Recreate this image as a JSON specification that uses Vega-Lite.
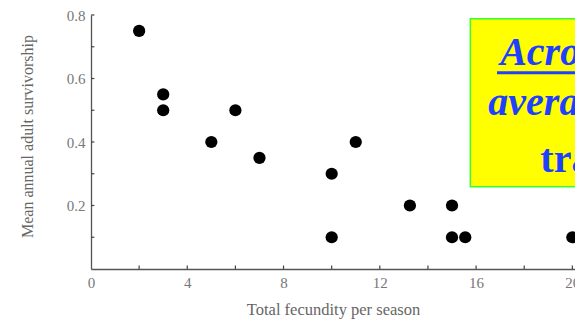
{
  "$schema": "https://vega.github.io/schema/vega-lite/v6.json",
  "width": 484,
  "height": 254,
  "autosize": {"type": "none"},
  "padding": {"left": 91, "top": 15, "right": 0, "bottom": 53},
  "background": "white",
  "config": {
    "view": {"stroke": null},
    "axis": {
      "labelFont": "Liberation Serif",
      "titleFont": "Liberation Serif",
      "labelFontSize": 15,
      "titleFontSize": 16,
      "labelColor": "#777",
      "titleColor": "#666",
      "titleFontWeight": "normal",
      "domainColor": "#555",
      "domainWidth": 1.3,
      "ticks": false,
      "grid": false
    }
  },
  "layer": [
    {
      "data": {"values": [
        {"fecundity": 2, "survivorship": 0.75},
        {"fecundity": 3, "survivorship": 0.55},
        {"fecundity": 3, "survivorship": 0.5},
        {"fecundity": 5, "survivorship": 0.4},
        {"fecundity": 6, "survivorship": 0.5},
        {"fecundity": 7, "survivorship": 0.35},
        {"fecundity": 10, "survivorship": 0.3},
        {"fecundity": 10, "survivorship": 0.1},
        {"fecundity": 11, "survivorship": 0.4},
        {"fecundity": 13.25, "survivorship": 0.2},
        {"fecundity": 15, "survivorship": 0.2},
        {"fecundity": 15, "survivorship": 0.1},
        {"fecundity": 15.55, "survivorship": 0.1},
        {"fecundity": 20, "survivorship": 0.1}
      ]},
      "mark": {"type": "circle", "size": 150, "color": "black", "opacity": 1},
      "encoding": {
        "x": {
          "field": "fecundity", "type": "quantitative",
          "scale": {"domain": [0, 20.11], "nice": false},
          "axis": {
            "title": "Total fecundity per season",
            "titleFontSize": 16.5,
            "values": [0, 4, 8, 12, 16, 20],
            "labelPadding": 6,
            "titlePadding": 11,
            "labelFlush": false,
            "labelOverlap": false
          }
        },
        "y": {
          "field": "survivorship", "type": "quantitative",
          "scale": {"domain": [0, 0.8], "nice": false},
          "axis": {
            "title": "Mean annual adult survivorship",
            "values": [0.2, 0.4, 0.6, 0.8],
            "format": ".1f",
            "labelPadding": 6,
            "titlePadding": 31,
            "titleY": 121,
            "labelFlush": false,
            "labelOverlap": false
          }
        }
      }
    },
    {
      "data": {"values": [
        {"ytick": 0.1}, {"ytick": 0.2}, {"ytick": 0.3}, {"ytick": 0.4},
        {"ytick": 0.5}, {"ytick": 0.6}, {"ytick": 0.7}, {"ytick": 0.8}
      ]},
      "mark": {"type": "rule", "color": "#444", "strokeWidth": 1.2},
      "encoding": {
        "x": {"datum": 0, "type": "quantitative"},
        "x2": {"datum": 0.14},
        "y": {"field": "ytick", "type": "quantitative"}
      }
    },
    {
      "data": {"values": [
        {"xtick": 2}, {"xtick": 4}, {"xtick": 6}, {"xtick": 8}, {"xtick": 10},
        {"xtick": 12}, {"xtick": 14}, {"xtick": 16}, {"xtick": 18}, {"xtick": 20}
      ]},
      "mark": {"type": "rule", "color": "#444", "strokeWidth": 1.2},
      "encoding": {
        "x": {"field": "xtick", "type": "quantitative"},
        "y": {"datum": 0, "type": "quantitative"},
        "y2": {"datum": 0.011}
      }
    },
    {
      "data": {"values": [{"box": "note"}]},
      "mark": {"type": "rect", "fill": "#ffff00", "stroke": "#33ff33", "strokeWidth": 1.5},
      "encoding": {
        "x": {"datum": 15.76, "type": "quantitative"},
        "x2": {"datum": 21},
        "y": {"datum": 0.788, "type": "quantitative"},
        "y2": {"datum": 0.259}
      }
    },
    {
      "data": {"values": [{"line": "Across species,"}]},
      "mark": {"type": "text", "font": "Liberation Serif", "fontSize": 40, "fontWeight": "bold", "fontStyle": "italic", "color": "#2040ff", "align": "left", "baseline": "alphabetic"},
      "encoding": {
        "text": {"field": "line"},
        "x": {"datum": 17.0, "type": "quantitative"},
        "y": {"datum": 0.6425, "type": "quantitative"}
      }
    },
    {
      "data": {"values": [{"line": "underline"}]},
      "mark": {"type": "rule", "color": "#2040ff", "strokeWidth": 3},
      "encoding": {
        "x": {"datum": 16.87, "type": "quantitative"},
        "x2": {"datum": 21},
        "y": {"datum": 0.618, "type": "quantitative"}
      }
    },
    {
      "data": {"values": [{"line": "average adult"}]},
      "mark": {"type": "text", "font": "Liberation Serif", "fontSize": 40, "fontWeight": "bold", "fontStyle": "italic", "color": "#2040ff", "align": "left", "baseline": "alphabetic"},
      "encoding": {
        "text": {"field": "line"},
        "x": {"datum": 16.51, "type": "quantitative"},
        "y": {"datum": 0.485, "type": "quantitative"}
      }
    },
    {
      "data": {"values": [{"line": "trade-off"}]},
      "mark": {"type": "text", "font": "Liberation Serif", "fontSize": 40, "fontWeight": "bold", "color": "#2040ff", "align": "left", "baseline": "alphabetic"},
      "encoding": {
        "text": {"field": "line"},
        "x": {"datum": 18.67, "type": "quantitative"},
        "y": {"datum": 0.3055, "type": "quantitative"}
      }
    }
  ]
}
